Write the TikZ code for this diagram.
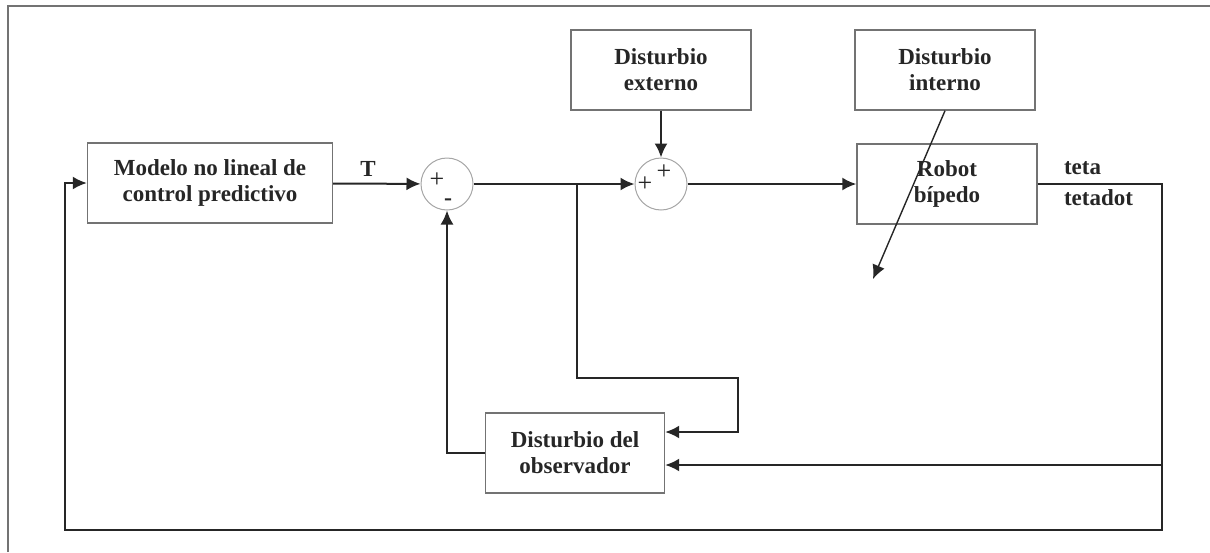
\documentclass[tikz,border=0pt]{standalone}
\usepackage{fontspec}
\setmainfont{Liberation Serif}
\usetikzlibrary{arrows.meta}

\begin{document}
\begin{tikzpicture}[x = 0.5pt, y = -0.5pt]
        \tikzset{block/.style = {draw = black!55, line width = 0.7pt, font = \bfseries\fontsize{11.5}{13}\selectfont, text = black!85, align = center, minimum height = 40pt}}
        \tikzset{sumnode/.style = {shape = circle, draw = black!35, line width = 0.5pt, minimum size = 26pt, inner sep = 0pt}}
        \tikzset{edge/.style = {-{Latex[length = 7pt, width = 6.5pt]}, line width = 1pt, draw = black!85}}
        \tikzset{sign/.style = {font = \fontsize{13}{13}\selectfont, inner sep = 0pt, text = black!85}}
        \tikzset{outlabel/.style = {font = \bfseries\fontsize{11.5}{13}\selectfont, text = black!85}}
        \useasboundingbox (0,0) rectangle (1210,552);
        % frame
        \draw[black!55, line width = 0.8pt] (8,552) -- (8,6) -- (1210,6);
        % blocks
        \node[block, minimum width = 122.5pt] (model) at (210,183) {Modelo no lineal de\\control predictivo};
        \node[block, minimum width = 90pt] (ext) at (661,70) {Disturbio\\externo};
        \node[block, minimum width = 90pt] (int) at (945,70) {Disturbio\\interno};
        \node[block, minimum width = 90pt] (robot) at (947,184) {Robot\\bípedo};
        \node[block, minimum width = 89.5pt] (obs) at (575,453) {Disturbio del\\observador};
        % summing points
        \node[sumnode] (sum1) at (447,184) {};
        \node[sumnode] (sum2) at (661,184) {};
        \node[sign] (p1) at (437,180) {+};
        \node[sign, font = \bfseries\fontsize{12}{12}\selectfont] (m1) at (448,202) {-};
        \node[sign] (p2) at (645,184) {+};
        \node[sign] (p3) at (664,172) {+};
        % outputs
        \node[outlabel, anchor = west] (teta) at (1057,168) {teta};
        \node[outlabel, anchor = west] (tetadot) at (1057,198) {tetadot};
        % corners
        \coordinate (b1) at (577,184);
        \coordinate (b2) at (738,378);
        \coordinate (out) at (1162,184);
        \coordinate (c1) at (65,530);
        \coordinate (c2) at (1162,465);
        \coordinate (tip) at (873,279);
        % edges
        \draw[edge] (model) -- node[outlabel, above, pos = 0.4] {T} (sum1);
        \draw[edge] (sum1) -- (sum2);
        \draw[edge] (ext.south) -- (sum2.north);
        \draw[edge] (sum2) -- (robot);
        \draw[edge, line width = 0.7pt] (int.south) -- (tip);
        \draw[edge] (b1) |- (b2) |- ([yshift = 10.5pt]obs.east);
        \draw[edge] (obs.west) -| (sum1.south);
        \draw[edge] (robot) -- (out) |- (c1) |- (model);
        \draw[edge] (c2) -- ([yshift = -6pt]obs.east);
\end{tikzpicture}
\end{document}
